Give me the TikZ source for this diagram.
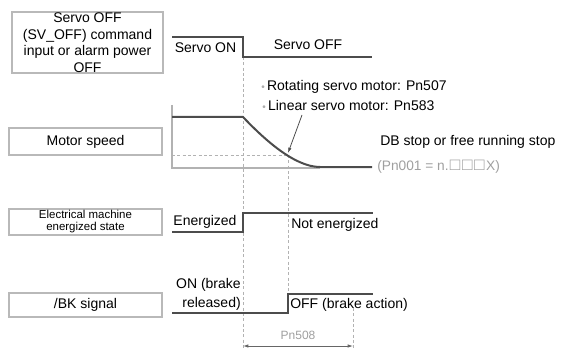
\documentclass[tikz,border=0pt]{standalone}
\usepackage{fontspec}
\setmainfont{Liberation Sans}
\usetikzlibrary{arrows.meta,positioning}

\newcommand{\dotmark}{{\color{gray!65}\fontsize{7.5}{7.5}\selectfont •}\,}
\newcommand{\sqmark}{{\fontsize{13}{13}\selectfont □}\hspace{1.2pt}}

\begin{document}
\begin{tikzpicture}[x=0.75pt, y=-0.75pt, >={Latex[length=4pt,width=2.6pt]},
    every node/.style={font=\fontsize{10.5}{12.4}\selectfont, inner sep=0pt},
    sigbox/.style={draw=gray!55, line width=1.1pt, minimum width=114.75pt, align=center},
    wave/.style={black!70, line width=1.5pt},
    guide/.style={gray!60, dash pattern=on 2.2pt off 1.8pt, line width=0.6pt},
    note/.style={text=gray!75, font=\fontsize{9}{10}\selectfont}]
    \useasboundingbox (0,0) rectangle (563,349);
    % signal boxes on the left
    \node[sigbox, minimum width=113.25pt, minimum height=45.75pt] (cmdbox) at (87.5,42.5)
        {Servo OFF\\(SV\_OFF) command\\input or alarm power\\OFF};
    \node[sigbox, minimum height=20.25pt] (speedbox) at (85.5,141.5) {Motor speed};
    \node[sigbox, minimum height=19.5pt, font=\fontsize{8.6}{9}\selectfont] (energbox) at (85.5,222)
        {Electrical machine\\energized state};
    \node[sigbox, minimum height=18pt] (bkbox) at (85.5,305) {/BK signal};
    % time marks
    \coordinate (Toff) at (243,57);
    \coordinate (Tbk) at (288,155);
    \coordinate (Tend) at (353,308);
    \draw[guide] (Toff) -- (243,349);
    \draw[guide] (Tbk) -- (288,313);
    \draw[guide] (Tend) -- (353,349);
    \draw[guide] (172,155) -- (Tbk);
    % servo command
    \draw[wave] (172,37) -- (243,37) -- (Toff) -- (372,57);
    \node (servoon) at (205.5,48) {Servo ON};
    \node (servooff) at (308,45) {Servo OFF};
    % motor speed
    \draw[gray!60, line width=0.8pt] (172,105) -- (172,168) -- (320,168);
    \draw[wave] (172,117) -- (243,117) .. controls (263,138) and (294,167) .. (320,167) -- (372,167);
    \node[anchor=west] (rotnote) at (261,87) {\dotmark Rotating servo motor: Pn507};
    \node[anchor=west] (linnote) at (262,105) {\dotmark Linear servo motor: Pn583};
    \coordinate (noteTail) at (302,115);
    \coordinate (knee) at (288,153);
    \draw[->, black!70, line width=0.6pt] (noteTail) -- (knee);
    \node[anchor=west] (dbstop) at (380,142) {DB stop or free running stop};
    \node[note, anchor=west, font=\fontsize{10.3}{11}\selectfont] (pnzero) at (377,167)
        {(Pn001 = n.\hspace{1pt}\sqmark\sqmark\sqmark X)};
    % energized state
    \draw[wave] (172,232) -- (243,232) -- (243,213) -- (373,213);
    \node (energ) at (205,222) {Energized};
    \node[anchor=west] (notenerg) at (291,225) {Not energized};
    % brake signal
    \draw[wave] (172,313) -- (288,313) -- (288,294) -- (373,294);
    \node[anchor=east, align=right, font=\fontsize{10.5}{14.2}\selectfont] (bkon) at (241,294.5) {ON (brake\\released)};
    \node[anchor=west] (bkoff) at (290,305) {OFF (brake action)};
    % brake delay
    \coordinate (DelA) at (243,346);
    \coordinate (DelB) at (353,346);
    \draw[<->, black!60, line width=0.6pt] (DelA) -- (DelB);
    \node[note] (pnbk) at (298,335) {Pn508};
\end{tikzpicture}
\end{document}
